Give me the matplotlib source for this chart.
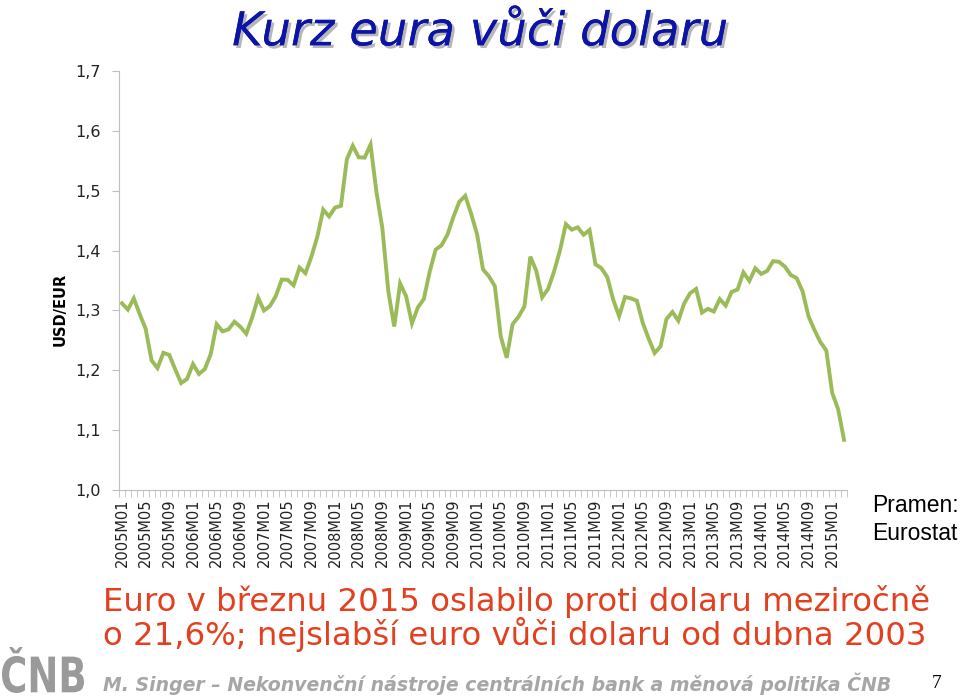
import numpy as np
import matplotlib
matplotlib.use('Agg')
import matplotlib.pyplot as plt
import matplotlib.patheffects as pe
from matplotlib.textpath import TextPath
from matplotlib.patches import PathPatch
from matplotlib.font_manager import FontProperties
from matplotlib.transforms import Affine2D

# monthly USD/EUR, 2005M01 - 2015M03
rate_2005 = [1.3119, 1.3014, 1.3201, 1.2938, 1.2694, 1.2165, 1.2037, 1.2292, 1.2256, 1.2015, 1.1786, 1.1856]
rate_2006 = [1.2103, 1.1938, 1.2020, 1.2271, 1.2770, 1.2650, 1.2684, 1.2811, 1.2727, 1.2611, 1.2881, 1.3213]
rate_2007 = [1.2999, 1.3074, 1.3242, 1.3516, 1.3511, 1.3419, 1.3716, 1.3622, 1.3896, 1.4227, 1.4684, 1.4570]
rate_2008 = [1.4718, 1.4748, 1.5527, 1.5751, 1.5557, 1.5553, 1.5770, 1.4975, 1.4370, 1.3322, 1.2732, 1.3449]
rate_2009 = [1.3239, 1.2785, 1.3050, 1.3190, 1.3650, 1.4016, 1.4088, 1.4268, 1.4562, 1.4816, 1.4914, 1.4614]
rate_2010 = [1.4272, 1.3686, 1.3569, 1.3406, 1.2565, 1.2209, 1.2770, 1.2894, 1.3067, 1.3898, 1.3661, 1.3220]
rate_2011 = [1.3360, 1.3649, 1.3999, 1.4442, 1.4349, 1.4388, 1.4264, 1.4343, 1.3770, 1.3706, 1.3556, 1.3179]
rate_2012 = [1.2905, 1.3224, 1.3201, 1.3162, 1.2789, 1.2526, 1.2288, 1.2400, 1.2856, 1.2974, 1.2828, 1.3119]
rate_2013 = [1.3288, 1.3359, 1.2964, 1.3026, 1.2982, 1.3189, 1.3080, 1.3310, 1.3348, 1.3635, 1.3493, 1.3704]
rate_2014 = [1.3610, 1.3659, 1.3823, 1.3813, 1.3732, 1.3592, 1.3539, 1.3316, 1.2901, 1.2673, 1.2472, 1.2331]
rate_2015 = [1.1621, 1.1350, 1.0838]

rates = (rate_2005 + rate_2006 + rate_2007 + rate_2008 + rate_2009 + rate_2010
         + rate_2011 + rate_2012 + rate_2013 + rate_2014 + rate_2015)
months = ['%dM%02d' % (2005 + i // 12, i % 12 + 1) for i in range(len(rates))]
yticks = [1.0, 1.1, 1.2, 1.3, 1.4, 1.5, 1.6, 1.7]

fig = plt.figure(figsize=(9.6, 6.97), dpi=100)
ax = fig.add_axes([119/960, 207/697, 728/960, 419/697])

x = np.arange(len(rates))
ax.plot(x, rates, color='#9bbb59', lw=2.8, solid_joinstyle='miter')

ax.set_xlim(-0.5, len(rates) - 0.5)
ax.set_ylim(1.0, 1.7)
ax.set_yticks(yticks)
ax.set_yticklabels([('%.1f' % v).replace('.', ',') for v in yticks], fontsize=11.5, color='#222222')
ax.set_xticks(x[::4])
ax.set_xticklabels(months[::4], rotation=90, fontsize=10.5, color='#222222')
ax.set_xticks(np.arange(len(rates) + 1) - 0.5, minor=True)
ax.tick_params(axis='x', which='major', length=0, pad=6)
ax.tick_params(axis='x', which='minor', length=5, color='#bfbfbf', direction='out')
ax.tick_params(axis='y', length=5, color='#bfbfbf', pad=8)
for s in ['top', 'right']:
    ax.spines[s].set_visible(False)
for s in ['left', 'bottom']:
    ax.spines[s].set_color('#bfbfbf')
ax.set_ylabel('USD/EUR', fontsize=10.5, fontweight='bold')
ax.yaxis.set_label_coords(-0.07, 0.43)

fig.text(0.5, 0.953, 'Kurz eura vůči dolaru', ha='center', va='center', fontsize=33.5,
         style='italic', color='#0b14a6',
         path_effects=[pe.withSimplePatchShadow(offset=(2, -2), shadow_rgbFace='#888888', alpha=0.6),
                       pe.Normal()])

fig.text(872/960, 1 - 505/697, 'Pramen:', fontsize=16.5, family='Liberation Sans', va='center')
fig.text(872/960, 1 - 533/697, 'Eurostat', fontsize=16.5, family='Liberation Sans', va='center')

fig.text(103/960, 1 - 602/697, 'Euro v březnu 2015 oslabilo proti dolaru meziročně',
         fontsize=23.3, color='#e2401f', va='center')
fig.text(103/960, 1 - 635/697, 'o 21,6%; nejslabší euro vůči dolaru od dubna 2003',
         fontsize=23.3, color='#e2401f', va='center')

fig.text(103/960, 1 - 684/697, 'M. Singer – Nekonvenční nástroje centrálních bank a měnová politika ČNB',
         fontsize=13.6, color='#a6a6a6', style='italic', fontweight='bold', va='center')
fig.text(937/960, 1 - 684/697, '7', fontsize=14, family='Liberation Serif', va='center', ha='center')

# logo
tp = TextPath((0, 0), 'ČNB', size=50, prop=FontProperties(family='DejaVu Sans', weight='bold'))
bb = tp.get_extents()
sx = 82 / bb.width
sy = 46 / bb.height
tr = Affine2D().translate(-bb.x0, -bb.y0).scale(sx, sy).translate(2, 4) + fig.dpi_scale_trans.frozen().scale(1/100)
logo = PathPatch(tp, transform=tr, facecolor='#9a9a9a', edgecolor='none')
fig.patches.append(logo)

fig.savefig('out.png', dpi=100)
